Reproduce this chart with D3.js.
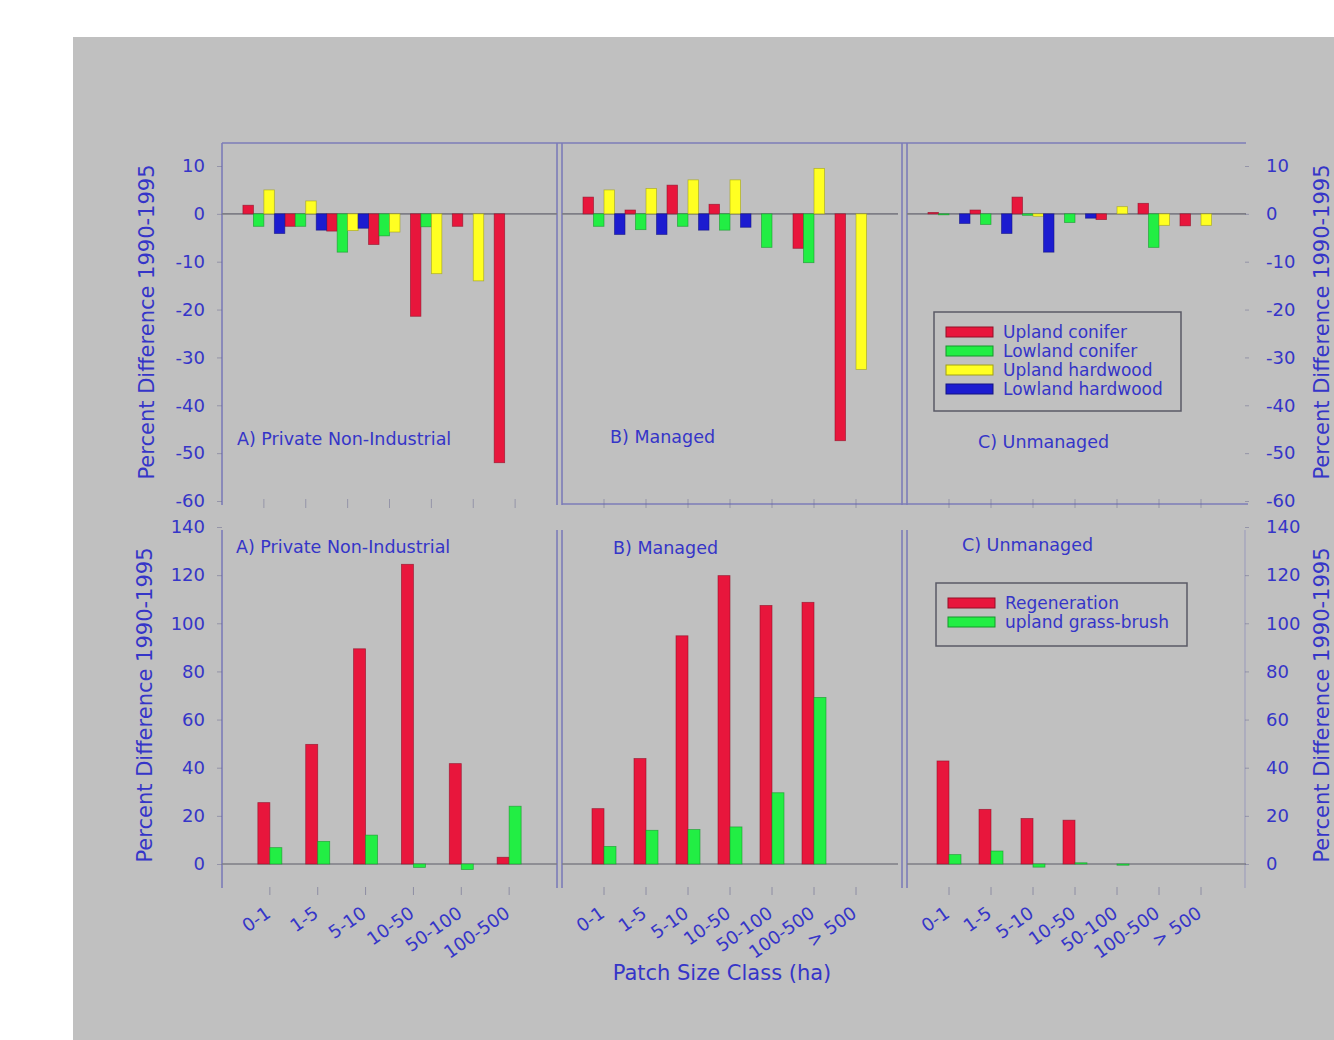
<!DOCTYPE html>
<html>
<head>
<meta charset="utf-8">
<script src="https://cdn.jsdelivr.net/npm/d3@7"></script>
<style>
  html, body { margin: 0; padding: 0; background: #ffffff; }
  svg { display: block; }
  text { font-family: "DejaVu Sans", Arial, sans-serif; fill: #3535c8; }
</style>
</head>
<body>
<svg id="chart" width="1334" height="1040"></svg>
<script>
// ---------------- DATA ----------------
const categories = ["0-1", "1-5", "5-10", "10-50", "50-100", "100-500", "> 500"];
const categoriesA = ["0-1", "1-5", "5-10", "10-50", "50-100", "100-500"];

const topSeriesNames = ["Upland conifer", "Lowland conifer", "Upland hardwood", "Lowland hardwood"];
const bottomSeriesNames = ["Regeneration", "upland grass-brush"];

// Top row: percent difference by forest type (A private non-industrial, B managed, C unmanaged)
const uplandConiferA   = [1.8, -2.6, -3.6, -6.4, -21.4, -2.6, -52.0];
const lowlandConiferA  = [-2.6, -2.6, -8.0, -4.6, -2.7, 0, 0];
const uplandHardwoodA  = [5.0, 2.7, -3.5, -3.8, -12.5, -14.0, 0];
const lowlandHardwoodA = [-4.1, -3.4, -3.0, 0, 0, 0, 0];

const uplandConiferB   = [3.5, 0.8, 6.0, 2.0, 0, -7.2, -47.4];
const lowlandConiferB  = [-2.6, -3.3, -2.6, -3.4, -7.0, -10.2, 0];
const uplandHardwoodB  = [5.0, 5.3, 7.1, 7.1, 0, 9.5, -32.5];
const lowlandHardwoodB = [-4.3, -4.3, -3.4, -2.8, 0, 0, 0];

const uplandConiferC   = [0.3, 0.8, 3.5, 0, -1.2, 2.2, -2.5];
const lowlandConiferC  = [-0.2, -2.2, -0.3, -1.8, 0, -7.0, 0];
const uplandHardwoodC  = [0, 0, -0.5, 0, 1.5, -2.4, -2.4];
const lowlandHardwoodC = [-2.0, -4.1, -8.0, -0.9, 0, 0, 0];

// Bottom row: regeneration and upland grass-brush
const regenerationA = [25.5, 49.7, 89.4, 124.5, 41.7, 2.8];
const grassBrushA   = [6.8, 9.4, 12.0, -1.4, -2.3, 24.0];
const regenerationB = [23.0, 43.8, 94.8, 119.8, 107.4, 108.7, 0];
const grassBrushB   = [7.3, 14.0, 14.3, 15.4, 29.6, 69.2, 0];
const regenerationC = [42.8, 22.7, 18.9, 18.2, 0, 0, 0];
const grassBrushC   = [3.9, 5.4, -1.3, 0.5, -0.5, 0, 0];

const topTicks = [10, 0, -10, -20, -30, -40, -50, -60];
const bottomTicks = [0, 20, 40, 60, 80, 100, 120, 140];

const panelLabels = ["A) Private Non-Industrial", "B) Managed", "C) Unmanaged"];
const yTitle = "Percent Difference 1990-1995";
const xTitle = "Patch Size Class (ha)";

// ---------------- STYLE ----------------
const topColors = ["#e8163c", "#22ee44", "#ffff22", "#1c1cd0"];
const bottomColors = ["#e8163c", "#22ee44"];
const frameColor = "#7c7cb8";
const zeroColor = "#7e7e86";
const textColor = "#3535c8";

const svg = d3.select("#chart");
svg.append("rect").attr("x", 0).attr("y", 0).attr("width", 1334).attr("height", 1040).attr("fill", "#ffffff");
svg.append("rect").attr("x", 73).attr("y", 37).attr("width", 1261).attr("height", 1003).attr("fill", "#c0c0c0");

const panels = [[222, 557], [562, 898], [907, 1243]];

const yTop = d3.scaleLinear().domain([-60, 10]).range([501, 166]);
const yBot = d3.scaleLinear().domain([0, 140]).range([864, 527]);

// ---------------- FRAMES ----------------
const frame = svg.append("g").attr("stroke", frameColor).attr("stroke-width", 1.6).attr("fill", "none");
frame.append("line").attr("x1", 222).attr("x2", 1246).attr("y1", 143).attr("y2", 143);
frame.append("line").attr("x1", 562).attr("x2", 1248).attr("y1", 504).attr("y2", 504);
[222, 557, 562, 902, 907].forEach(x => {
  frame.append("line").attr("x1", x).attr("x2", x).attr("y1", 143).attr("y2", 505);
  frame.append("line").attr("x1", x).attr("x2", x).attr("y1", 530).attr("y2", 888);
});
frame.append("line").attr("x1", 1245).attr("x2", 1245).attr("y1", 530).attr("y2", 888)
  .attr("stroke-opacity", 0.35);

// ---------------- TOP ROW ----------------
const topData = [
  [uplandConiferA, lowlandConiferA, uplandHardwoodA, lowlandHardwoodA],
  [uplandConiferB, lowlandConiferB, uplandHardwoodB, lowlandHardwoodB],
  [uplandConiferC, lowlandConiferC, uplandHardwoodC, lowlandHardwoodC]
];

topData.forEach((series, p) => {
  const [x0, x1] = panels[p];
  const x = d3.scaleLinear().domain([0, categories.length + 1]).range([x0, x1]);
  const step = x(1) - x(0);
  const w = step / 4;
  const g = svg.append("g");
  g.append("line").attr("x1", x0).attr("x2", p === 2 ? 1246 : x1)
    .attr("y1", yTop(0)).attr("y2", yTop(0))
    .attr("stroke", zeroColor).attr("stroke-width", 1.6);
  series.forEach((vals, k) => {
    g.selectAll(null).data(vals).enter().append("rect")
      .attr("x", (d, i) => x(i + 1) - 2 * w + k * w)
      .attr("y", d => yTop(Math.max(0, d)))
      .attr("width", w)
      .attr("height", d => Math.abs(yTop(d) - yTop(0)))
      .attr("fill", topColors[k])
      .attr("stroke", d3.color(topColors[k]).darker(1.3))
      .attr("stroke-width", 0.8)
      .attr("stroke-opacity", 0.7);
  });
  g.selectAll(null).data(categories).enter().append("line")
    .attr("x1", (d, i) => x(i + 1)).attr("x2", (d, i) => x(i + 1))
    .attr("y1", 499).attr("y2", 508)
    .attr("stroke", "#6a6a90").attr("stroke-width", 1).attr("stroke-opacity", 0.5);
});

// ---------------- BOTTOM ROW ----------------
const bottomData = [
  [regenerationA, grassBrushA, categoriesA],
  [regenerationB, grassBrushB, categories],
  [regenerationC, grassBrushC, categories]
];

bottomData.forEach(([reg, grass, cats], p) => {
  const [x0, x1] = panels[p];
  const x = d3.scaleLinear().domain([0, cats.length + 1]).range([x0, x1]);
  const bw = 12;
  const g = svg.append("g");
  g.append("line").attr("x1", x0).attr("x2", p === 2 ? 1246 : x1)
    .attr("y1", yBot(0)).attr("y2", yBot(0))
    .attr("stroke", zeroColor).attr("stroke-width", 1.6);
  [reg, grass].forEach((vals, k) => {
    g.selectAll(null).data(vals).enter().append("rect")
      .attr("x", (d, i) => x(i + 1) - bw + k * bw)
      .attr("y", d => yBot(Math.max(0, d)))
      .attr("width", bw)
      .attr("height", d => Math.abs(yBot(d) - yBot(0)))
      .attr("fill", bottomColors[k])
      .attr("stroke", d3.color(bottomColors[k]).darker(1.3))
      .attr("stroke-width", 0.8)
      .attr("stroke-opacity", 0.7);
  });
  g.selectAll(null).data(cats).enter().append("line")
    .attr("x1", (d, i) => x(i + 1)).attr("x2", (d, i) => x(i + 1))
    .attr("y1", 887).attr("y2", 895)
    .attr("stroke", "#6a6a90").attr("stroke-width", 1).attr("stroke-opacity", 0.6);
  g.selectAll(null).data(cats).enter().append("text")
    .attr("transform", (d, i) => `translate(${x(i + 1) + 2},${916}) rotate(-35)`)
    .attr("text-anchor", "end")
    .attr("font-size", 18)
    .text(d => d);
});

// ---------------- Y AXES ----------------
const fmt = d => String(d);
function styleAxis(sel) {
  sel.select(".domain").remove();
  sel.selectAll(".tick line").attr("stroke", "#6a6a90").attr("stroke-opacity", 0.5);
  sel.selectAll(".tick text").attr("font-size", 18).attr("fill", textColor)
    .attr("font-family", "DejaVu Sans, Arial, sans-serif");
}
svg.append("g").attr("transform", "translate(222,0)")
  .call(d3.axisLeft(yTop).tickValues(topTicks).tickSize(5).tickPadding(12).tickFormat(fmt))
  .call(styleAxis);
svg.append("g").attr("transform", "translate(222,0)")
  .call(d3.axisLeft(yBot).tickValues(bottomTicks).tickSize(5).tickPadding(12).tickFormat(fmt))
  .call(styleAxis);
svg.append("g").attr("transform", "translate(1245,0)")
  .call(d3.axisRight(yTop).tickValues(topTicks).tickSize(4).tickPadding(17).tickFormat(fmt))
  .call(styleAxis);
svg.append("g").attr("transform", "translate(1245,0)")
  .call(d3.axisRight(yBot).tickValues(bottomTicks).tickSize(4).tickPadding(17).tickFormat(fmt))
  .call(styleAxis);

// ---------------- TITLES ----------------
[[154, 322], [152, 705], [1329, 322], [1329, 705]].forEach(([tx, ty]) => {
  svg.append("text")
    .attr("transform", `translate(${tx},${ty}) rotate(-90)`)
    .attr("text-anchor", "middle")
    .attr("font-size", 21)
    .text(yTitle);
});
svg.append("text").attr("x", 722).attr("y", 980).attr("text-anchor", "middle")
  .attr("font-size", 21).text(xTitle);

// panel labels
const topLabelPos = [[237, 445], [610, 443], [978, 448]];
const botLabelPos = [[236, 553], [613, 554], [962, 551]];
panelLabels.forEach((t, i) => {
  svg.append("text").attr("x", topLabelPos[i][0]).attr("y", topLabelPos[i][1]).attr("font-size", 17.5).text(t);
  svg.append("text").attr("x", botLabelPos[i][0]).attr("y", botLabelPos[i][1]).attr("font-size", 17.5).text(t);
});

// ---------------- LEGENDS ----------------
function legend(x, y, w, h, names, colors, rowStep) {
  const g = svg.append("g");
  g.append("rect").attr("x", x).attr("y", y).attr("width", w).attr("height", h)
    .attr("fill", "none").attr("stroke", "#5a5a66").attr("stroke-width", 1.5);
  names.forEach((n, i) => {
    const cy = y + 20 + i * rowStep;
    g.append("rect").attr("x", x + 12).attr("y", cy - 5).attr("width", 47).attr("height", 10)
      .attr("fill", colors[i]).attr("stroke", d3.color(colors[i]).darker(1.3)).attr("stroke-width", 1);
    g.append("text").attr("x", x + 69).attr("y", cy + 6).attr("font-size", 17).text(n);
  });
}
legend(934, 312, 247, 99, topSeriesNames, topColors, 19);
legend(936, 583, 251, 63, bottomSeriesNames, bottomColors, 19);
</script>
</body>
</html>
